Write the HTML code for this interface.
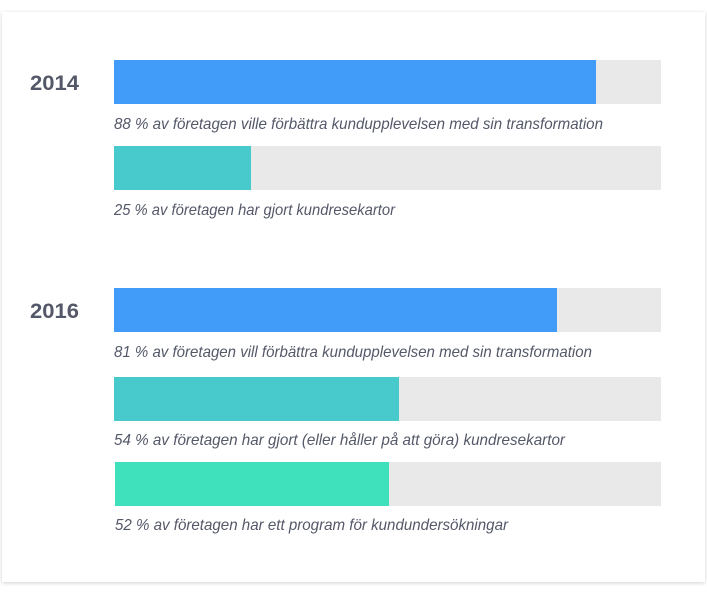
<!DOCTYPE html>
<html><head><meta charset="utf-8"><style>
html,body{margin:0;padding:0;background:#fff;width:707px;height:595px;overflow:hidden}
.card{position:absolute;left:2px;top:12px;width:703px;height:570px;background:#fff;box-shadow:0 1px 4px rgba(0,0,0,0.18)}
svg{position:absolute;left:0;top:0}
</style></head><body>
<div class="card"></div>
<svg width="707" height="595" font-family="Liberation Sans, sans-serif">
<g fill="#e9e9e9">
<rect x="114" y="60" width="547" height="44"/>
<rect x="114" y="146" width="547" height="44"/>
<rect x="114" y="288" width="547" height="44"/>
<rect x="114" y="377" width="547" height="44"/>
<rect x="115" y="462" width="546" height="44"/>
</g>
<rect x="114" y="60" width="482" height="44" fill="#419bf9"/>
<rect x="114" y="146" width="137" height="44" fill="#48cacc"/>
<rect x="114" y="288" width="443" height="44" fill="#419bf9"/>
<rect x="114" y="377" width="285" height="44" fill="#48cacc"/>
<rect x="115" y="462" width="274" height="44" fill="#3ee1bb"/>
<g fill="#545868" font-size="21" font-weight="bold">
<text x="30" y="90" textLength="49" lengthAdjust="spacingAndGlyphs">2014</text>
<text x="30" y="318" textLength="49" lengthAdjust="spacingAndGlyphs">2016</text>
</g>
<g fill="#545868" font-size="16" font-style="italic">
<text x="114" y="129" textLength="489" lengthAdjust="spacingAndGlyphs">88 % av företagen ville förbättra kundupplevelsen med sin transformation</text>
<text x="114" y="215" textLength="281" lengthAdjust="spacingAndGlyphs">25 % av företagen har gjort kundresekartor</text>
<text x="114" y="357" textLength="478" lengthAdjust="spacingAndGlyphs">81 % av företagen vill förbättra kundupplevelsen med sin transformation</text>
<text x="114" y="445" textLength="451" lengthAdjust="spacingAndGlyphs">54 % av företagen har gjort (eller håller på att göra) kundresekartor</text>
<text x="115" y="530" textLength="393" lengthAdjust="spacingAndGlyphs">52 % av företagen har ett program för kundundersökningar</text>
</g>
</svg>
</body></html>
